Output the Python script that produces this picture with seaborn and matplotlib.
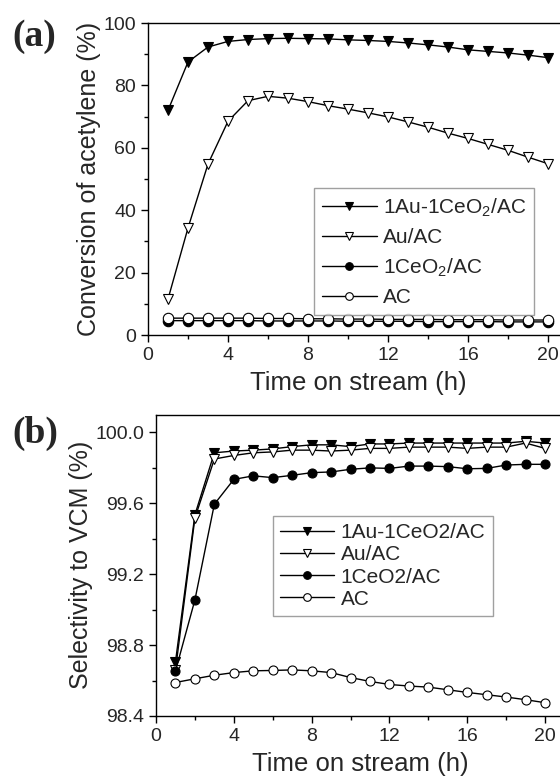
import numpy as np
import pandas as pd
import matplotlib
matplotlib.use("Agg")
import matplotlib.pyplot as plt
from matplotlib.ticker import MultipleLocator
import seaborn as sns

sns.set_style("ticks")
plt.rcParams['font.family'] = ['Liberation Sans', 'DejaVu Sans']
plt.rcParams['mathtext.fontset'] = 'custom'
plt.rcParams['mathtext.rm'] = 'Liberation Sans'
plt.rcParams['mathtext.it'] = 'Liberation Sans'

hours = list(range(1, 21))

# Panel (a): conversion of acetylene (%)
conv_aucec = [72.0, 87.5, 92.3, 94.1, 94.7, 95.0, 95.1, 95.0, 94.9, 94.6,
              94.4, 94.1, 93.6, 93.0, 92.3, 91.4, 90.9, 90.4, 89.7, 88.9]
conv_au = [11.5, 34.3, 54.8, 68.5, 75.1, 76.5, 75.9, 74.8, 73.5, 72.4,
           71.2, 69.9, 68.3, 66.6, 64.7, 63.0, 61.1, 59.2, 57.0, 54.9]
conv_ceo2 = [4.6, 4.6, 4.6, 4.6, 4.6, 4.5, 4.5, 4.5, 4.5, 4.4,
             4.4, 4.4, 4.4, 4.3, 4.3, 4.3, 4.3, 4.2, 4.2, 4.2]
conv_ac = [5.4, 5.4, 5.4, 5.4, 5.4, 5.3, 5.3, 5.2, 5.2, 5.1,
           5.1, 5.0, 5.0, 5.0, 4.9, 4.9, 4.9, 4.8, 4.8, 4.8]

# Panel (b): selectivity to VCM (%)
sel_aucec = [98.705, 99.535, 99.885, 99.895, 99.900, 99.907, 99.920, 99.930, 99.930, 99.920,
             99.935, 99.935, 99.940, 99.940, 99.940, 99.940, 99.940, 99.940, 99.950, 99.940]
sel_au = [98.660, 99.517, 99.850, 99.870, 99.885, 99.890, 99.900, 99.900, 99.895, 99.900,
          99.910, 99.910, 99.917, 99.917, 99.917, 99.910, 99.917, 99.917, 99.940, 99.910]
sel_ceo2 = [98.653, 99.055, 99.595, 99.735, 99.755, 99.745, 99.758, 99.773, 99.777, 99.792,
            99.800, 99.797, 99.810, 99.810, 99.807, 99.795, 99.797, 99.816, 99.820, 99.820]
sel_ac = [98.589, 98.610, 98.630, 98.645, 98.655, 98.657, 98.660, 98.655, 98.645, 98.617,
          98.595, 98.578, 98.569, 98.563, 98.548, 98.533, 98.520, 98.507, 98.492, 98.475]

labels_a = ["1Au-1CeO$_2$/AC", "Au/AC", "1CeO$_2$/AC", "AC"]
labels_b = ["1Au-1CeO2/AC", "Au/AC", "1CeO2/AC", "AC"]
markers = ["v", "v", "o", "o"]
faces = ["black", "white", "black", "white"]

fig = plt.figure(figsize=(5.6, 7.83), dpi=100)
W, H = 560, 783
ax_a = fig.add_axes([148 / W, 1 - 335 / H, 420 / W, 312 / H])
ax_b = fig.add_axes([156 / W, 1 - 716 / H, 408.5 / W, 301.3 / H])


def draw(ax, series, labels, ms):
    for ys, lab, mk, fc in zip(series, labels, markers, faces):
        df = pd.DataFrame({"t": hours, "v": ys})
        sns.lineplot(data=df, x="t", y="v", ax=ax, color="black", lw=1.0,
                     marker=mk, markersize=ms, markerfacecolor=fc,
                     markeredgecolor="black", markeredgewidth=0.8, label=lab)


draw(ax_a, [conv_aucec, conv_au, conv_ceo2, conv_ac], labels_a, 7.5)
draw(ax_b, [sel_aucec, sel_au, sel_ceo2, sel_ac], labels_b, 6.5)

for ax in (ax_a, ax_b):
    ax.set_xlim(0, 21)
    ax.xaxis.set_major_locator(MultipleLocator(4))
    ax.xaxis.set_minor_locator(MultipleLocator(2))
    ax.tick_params(which="both", direction="out", top=False, right=False,
                   labelsize=14, width=1, color="black")
    ax.tick_params(which="major", length=5)
    ax.tick_params(which="minor", length=3)
    for sp in ax.spines.values():
        sp.set_visible(True)
        sp.set_linewidth(1.0)
        sp.set_color("black")
    ax.set_xlabel("Time on stream (h)", fontsize=18.5, labelpad=5)

ax_a.set_ylim(0, 100)
ax_a.yaxis.set_major_locator(MultipleLocator(20))
ax_a.yaxis.set_minor_locator(MultipleLocator(10))
ax_a.set_ylabel("Conversion of acetylene (%)", fontsize=18, labelpad=2)

ax_b.set_ylim(98.4, 100.1)
ax_b.yaxis.set_major_locator(MultipleLocator(0.4))
ax_b.yaxis.set_minor_locator(MultipleLocator(0.2))
ax_b.yaxis.set_major_formatter(matplotlib.ticker.FormatStrFormatter("%.1f"))
ax_b.set_ylabel("Selectivity to VCM (%)", fontsize=18, labelpad=2)

leg_a = ax_a.legend(loc="upper left", bbox_to_anchor=((314 - 148) / 420, (335 - 188) / 312),
                    borderaxespad=0,
                    fontsize=15, frameon=True, fancybox=False, edgecolor="#888888",
                    handlelength=2.6, handletextpad=0.3, labelspacing=0.45, borderpad=0.4)
leg_b = ax_b.legend(loc="upper left", bbox_to_anchor=((273 - 156) / 408.5, (716 - 516) / 301.3),
                    borderaxespad=0,
                    fontsize=15, frameon=True, fancybox=False, edgecolor="#888888",
                    handlelength=2.6, handletextpad=0.3, labelspacing=0.15, borderpad=0.35)
for leg in (leg_a, leg_b):
    leg.get_frame().set_linewidth(1.0)
    for h in leg.legend_handles:
        h.set_markersize(5.5)

fig.text(12 / W, 1 - 36 / H, "(a)", fontsize=27, fontweight="bold",
         family="Liberation Serif", va="center", ha="left")
fig.text(12 / W, 1 - 433 / H, "(b)", fontsize=27, fontweight="bold",
         family="Liberation Serif", va="center", ha="left")

fig.savefig("out.png", dpi=100)
